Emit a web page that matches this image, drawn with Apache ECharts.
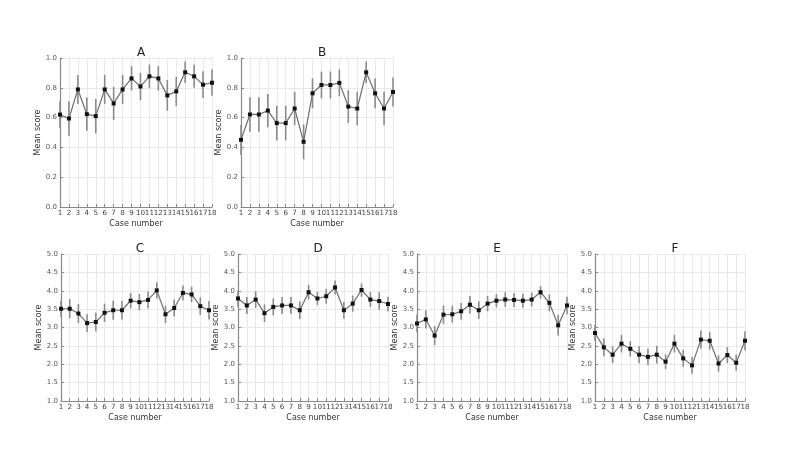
<!DOCTYPE html>
<html><head><meta charset="utf-8">
<script src="https://cdn.jsdelivr.net/npm/echarts@6/dist/echarts.min.js"></script>
<style>html,body{margin:0;padding:0;background:#fff}#c{width:800px;height:450px}</style>
</head><body><div id="c"></div>
<script>
var cases = ['1','2','3','4','5','6','7','8','9','10','11','12','13','14','15','16','17','18'];
var panelNames = ['A','B','C','D','E','F'];
var meanA = [0.62,0.594,0.789,0.623,0.61,0.789,0.695,0.789,0.863,0.809,0.877,0.863,0.749,0.776,0.904,0.877,0.821,0.834];
var errA  = [0.09,0.115,0.097,0.112,0.115,0.097,0.11,0.097,0.082,0.092,0.079,0.082,0.103,0.098,0.072,0.077,0.09,0.088];
var meanB = [0.451,0.621,0.621,0.647,0.563,0.563,0.661,0.4375,0.763,0.819,0.819,0.833,0.674,0.661,0.904,0.763,0.661,0.772];
var errB  = [0.1,0.116,0.116,0.112,0.116,0.116,0.112,0.117,0.1,0.09,0.09,0.09,0.11,0.112,0.073,0.1,0.112,0.097];
var meanC = [3.51,3.51,3.38,3.12,3.15,3.4,3.47,3.47,3.73,3.69,3.75,4.01,3.36,3.53,3.94,3.9,3.58,3.47];
var errC  = [0.22,0.26,0.26,0.24,0.25,0.25,0.26,0.25,0.21,0.22,0.23,0.22,0.24,0.23,0.2,0.21,0.24,0.25];
var meanD = [3.79,3.6,3.76,3.39,3.56,3.6,3.6,3.47,3.96,3.79,3.85,4.09,3.47,3.65,4.02,3.76,3.72,3.64];
var errD  = [0.22,0.23,0.23,0.24,0.23,0.23,0.23,0.24,0.2,0.18,0.2,0.19,0.23,0.22,0.18,0.2,0.24,0.2];
var meanE = [3.11,3.22,2.78,3.35,3.36,3.44,3.62,3.47,3.65,3.73,3.76,3.75,3.73,3.76,3.96,3.67,3.06,3.6];
var errE  = [0.24,0.25,0.26,0.25,0.23,0.23,0.24,0.24,0.21,0.18,0.2,0.19,0.19,0.19,0.17,0.23,0.28,0.24];
var meanF = [2.85,2.46,2.26,2.56,2.42,2.26,2.2,2.26,2.07,2.56,2.16,1.97,2.67,2.64,2.02,2.25,2.04,2.64];
var errF  = [0.22,0.24,0.23,0.24,0.21,0.23,0.22,0.24,0.2,0.24,0.23,0.23,0.25,0.24,0.22,0.22,0.22,0.26];
var yRanges = [[0,1,0.2],[0,1,0.2],[1,5,0.5],[1,5,0.5],[1,5,0.5],[1,5,0.5]];

var means = [meanA,meanB,meanC,meanD,meanE,meanF];
var errs = [errA,errB,errC,errD,errE,errF];
var boxes = [[60,212,58,207],[241,393,58,207],[61,209,254,401],[238,388,254,401],[417,567,254,401],[595,745,254,401]];
var font='DejaVu Sans';
var grids=[],xAxes=[],yAxes=[],series=[],titles=[];
for (var i=0;i<6;i++){
  var b=boxes[i];
  grids.push({left:b[0],top:b[2],width:b[1]-b[0],height:b[3]-b[2],containLabel:false});
  titles.push({text:panelNames[i],left:(b[0]+b[1])/2,top:b[2]-16,textAlign:'center',
    textStyle:{fontFamily:font,fontSize:12,fontWeight:'normal',color:'#222'}});
  xAxes.push({type:'category',gridIndex:i,data:cases,boundaryGap:false,
    name:'Case number',nameLocation:'middle',nameGap:13,
    nameTextStyle:{fontFamily:font,fontSize:8,color:'#333'},
    axisLine:{lineStyle:{color:'#888',width:1.2}},
    axisTick:{inside:true,length:3,interval:0,lineStyle:{color:'#888'}},
    axisLabel:{fontFamily:font,fontSize:7.2,color:'#444',margin:3,interval:0,hideOverlap:false},
    splitLine:{show:true,interval:0,lineStyle:{color:'#e8e8e8',width:1}}});
  var yr=yRanges[i];
  yAxes.push({type:'value',gridIndex:i,min:yr[0],max:yr[1],interval:yr[2],
    name:'Mean score',nameLocation:'middle',nameGap:i<2?18:15,
    nameTextStyle:{fontFamily:font,fontSize:8,color:'#333'},
    axisLine:{show:true,lineStyle:{color:'#888',width:1.2}},
    axisTick:{show:true,inside:true,length:3,lineStyle:{color:'#888'}},
    axisLabel:{fontFamily:font,fontSize:7,color:'#555',margin:3,
      formatter:function(v){return v.toFixed(1);}},
    splitLine:{show:true,lineStyle:{color:'#e8e8e8',width:1}}});
  var ebData=cases.map(function(c,k){return [k,means[i][k]-errs[i][k],means[i][k]+errs[i][k]];});
  series.push({type:'custom',xAxisIndex:i,yAxisIndex:i,data:ebData,z:2,
    renderItem:function(params,api){
      var lo=api.coord([api.value(0),api.value(1)]);
      var hi=api.coord([api.value(0),api.value(2)]);
      return {type:'line',shape:{x1:lo[0],y1:lo[1],x2:hi[0],y2:hi[1]},
        style:{stroke:'#8a8a8a',lineWidth:1.6}};
    }});
  series.push({type:'line',xAxisIndex:i,yAxisIndex:i,z:3,
    data:means[i],
    symbol:'rect',symbolSize:4,showSymbol:true,
    lineStyle:{color:'#6e6e6e',width:1.2},
    itemStyle:{color:'#111'}});
}
var chart=echarts.init(document.getElementById('c'),null,{renderer:'canvas'});
chart.setOption({animation:false,backgroundColor:'#fff',title:titles,grid:grids,xAxis:xAxes,yAxis:yAxes,series:series});
</script></body></html>
